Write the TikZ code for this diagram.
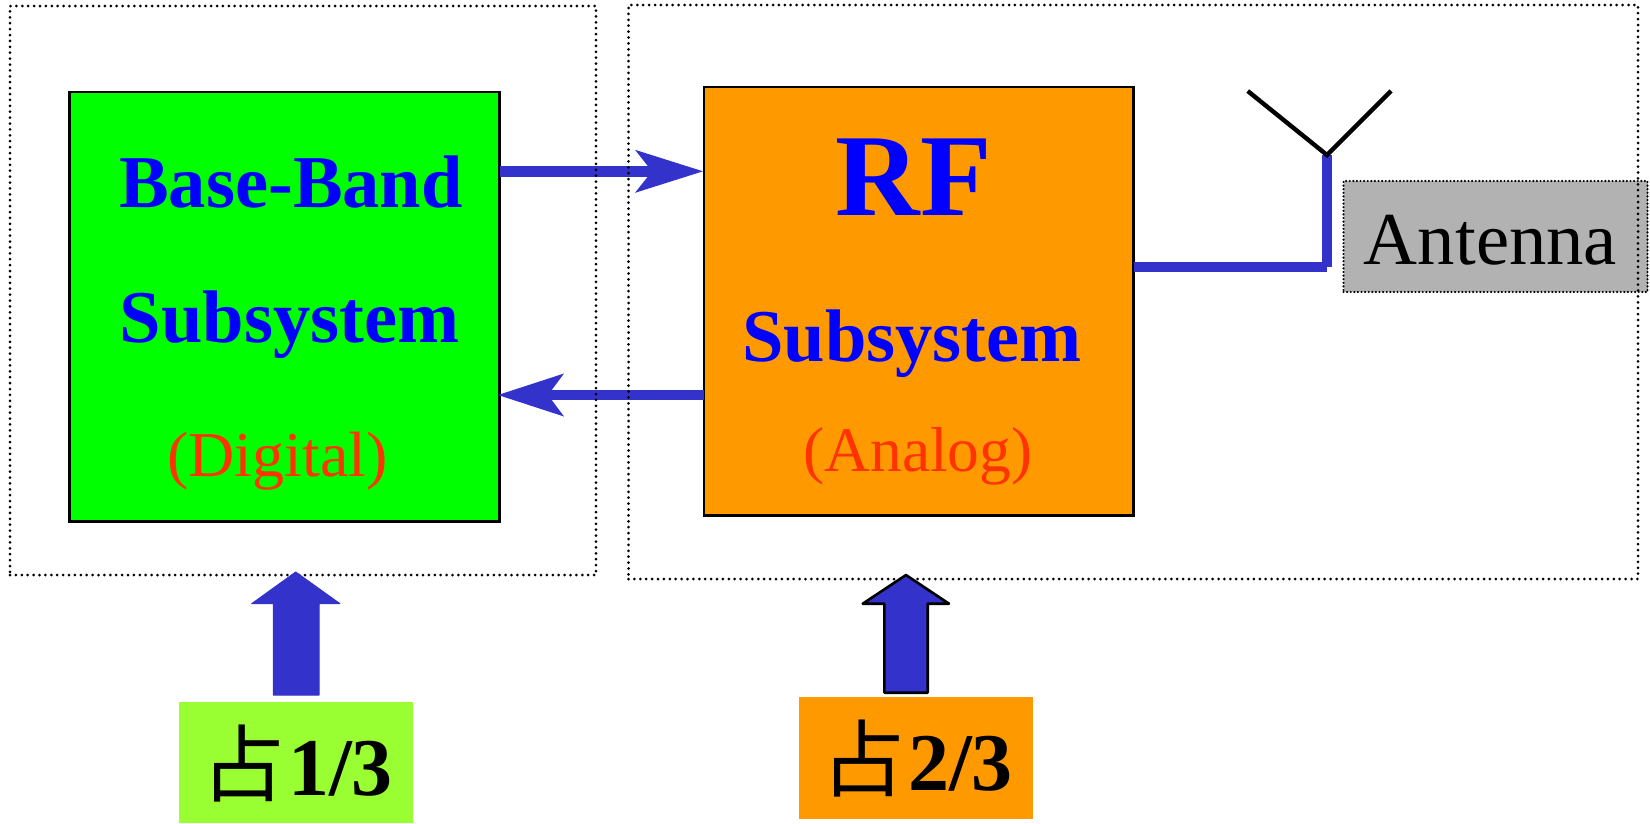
\documentclass[tikz,border=0pt]{standalone}
\usepackage{fontspec}
\setmainfont{Liberation Serif}
\newfontfamily\cjkfont{Noto Sans CJK SC}
\usetikzlibrary{arrows.meta}
\definecolor{arrowblue}{HTML}{3333CC}
\definecolor{textblue}{HTML}{0000FF}
\definecolor{boxgreen}{HTML}{00FF00}
\definecolor{boxorange}{HTML}{FF9900}
\definecolor{boxlime}{HTML}{99FF33}
\definecolor{boxgray}{HTML}{B2B2B2}
\definecolor{textred}{HTML}{FF3300}
\newcommand{\cjkzhan}{{\fontsize{84}{84}\selectfont\cjkfont 占}\kern2.5pt}
\tikzset{
  x=1pt,y=-1pt,
  every node/.style={inner sep=0pt,outer sep=0pt},
  subsys/.style={draw=black,line width=2.6pt,anchor=north west},
  dotbox/.style={draw=black,line width=3pt,line cap=round,dash pattern=on 0pt off 5.9pt},
  title/.style={anchor=base,text=textblue,font=\fontsize{74.5}{74.5}\selectfont\bfseries},
  kind/.style={anchor=base,text=textred,font=\fontsize{64}{64}\selectfont},
  share/.style={anchor=north west},
  sharetext/.style={anchor=base west,font=\fontsize{82}{82}\selectfont},
  link/.style={draw=arrowblue,line width=10.7pt},
  feed/.style={draw=arrowblue,line width=10.7pt},
  aerial/.style={draw=black,line width=4.4pt},
}
\begin{document}
\begin{tikzpicture}
\useasboundingbox (0,0) rectangle (1650,823);
% subsystem boxes
\node[subsys,fill=boxgreen,minimum width=430pt,minimum height=429.5pt] (bb) at (69.5,92) {};
\node[subsys,fill=boxorange,minimum width=429.5pt,minimum height=428.5pt] (rf) at (704,87) {};
% connectors
\coordinate (upper) at (0,171.3);
\coordinate (lower) at (0,395);
\draw[link,-{Stealth[length=68pt,width=43pt,inset=17pt,line width=0pt]},shorten >=1pt] (bb.east |- upper) -- (rf.west |- upper);
\draw[link,-{Stealth[length=66pt,width=43pt,inset=16pt,line width=0pt]},shorten >=-1.5pt] (rf.west |- lower) -- (bb.east |- lower);
% antenna
\coordinate (feedpt) at (1327,155);
\coordinate (bend) at (1327,267);
\coordinate (tipl) at (1247.7,91);
\coordinate (tipr) at (1391,91);
\draw[feed] (rf.east |- bend) -- (bend);
\draw[feed] (feedpt) -- (bend);
\draw[aerial] (tipl) -- (feedpt) -- (tipr);
% antenna label
\node[anchor=north west,fill=boxgray,draw=black,line width=2.4pt,line cap=round,dash pattern=on 0pt off 3.6pt,minimum width=304pt,minimum height=111pt] (ant) at (1343.5,181) {};
\node[anchor=base,font=\fontsize{74.7}{74.7}\selectfont] (anttext) at (1490.5,264) {Antenna};
% dotted partitions
\node[dotbox,anchor=north west,minimum width=586pt,minimum height=569pt] (left) at (10,6) {};
\node[dotbox,anchor=north west,minimum width=1009.5pt,minimum height=574pt] (right) at (628.5,5) {};
% texts
\node[title] (t1) at (291,207) {Base-Band};
\node[title] (t2) at (289.5,342) {Subsystem};
\node[kind] (t3) at (277.5,476) {(Digital)};
\node[anchor=base,text=textblue,font=\fontsize{117}{117}\selectfont\bfseries] (t4) at (913.5,215) {RF};
\node[title] (t5) at (912,361) {Subsystem};
\node[anchor=base,text=textred,font=\fontsize{63.5}{63.5}\selectfont] (t6) at (918,471) {(Analog)};
% share labels
\node[share,fill=boxlime,minimum width=234pt,minimum height=121pt] (s1) at (179,702) {};
\node[share,fill=boxorange,minimum width=234pt,minimum height=122pt] (s2) at (799,697) {};
\node[sharetext] (s1t) at (201.5,795) {\cjkzhan\textbf{1/3}};
\node[sharetext] (s2t) at (821.5,790) {\cjkzhan\textbf{2/3}};
% block arrows
\fill[arrowblue,draw=arrowblue,line width=1pt,line join=round]
  (295.7,572) -- (340,603.7) -- (319,603.7) -- (319,695) -- (273.3,695) -- (273.3,603.7) -- (251.7,603.7) -- cycle;
\fill[arrowblue,draw=black,line width=2.6pt,line join=round]
  (906,575) -- (949,603.7) -- (927.7,603.7) -- (927.7,692.7) -- (884.3,692.7) -- (884.3,603.7) -- (862.7,603.7) -- cycle;
\end{tikzpicture}
\end{document}
